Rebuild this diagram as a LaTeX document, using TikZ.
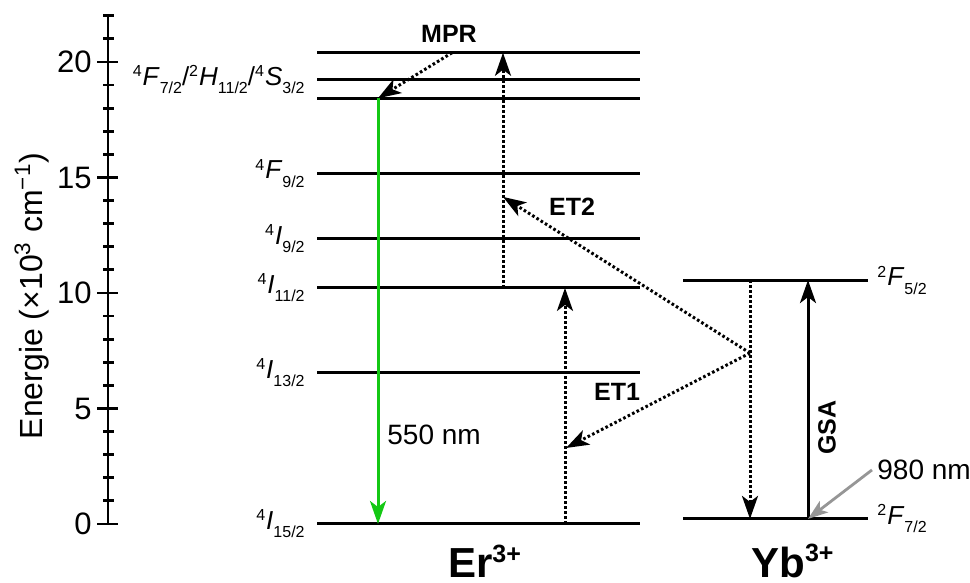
\documentclass[tikz,border=0pt]{standalone}
\usepackage{fontspec}
\setmainfont{Liberation Sans}
\usetikzlibrary{arrows.meta,positioning}

% term symbol: ^{#1}#2_{#3}
\newcommand{\term}[3]{\textsuperscript{\fontsize{8}{9}\selectfont #1}\textit{#2}\raisebox{-0.6ex}{\fontsize{8}{9}\selectfont #3}}

\tikzset{
    level/.style={line width=1.5pt},
    axis/.style={line width=1.4pt},
    tip/.style={-{Stealth[length=11.5pt,width=8pt,inset=3pt]}},
    trans/.style={tip, line width=1.5pt, dash pattern=on 1.3pt off 1.2pt},
    emission/.style={tip, line width=1.5pt, draw={rgb,255:red,20;green,200;blue,20}},
    pump/.style={tip, line width=1.5pt},
    laser/.style={-{Stealth[length=10pt,width=7pt,inset=2.5pt]}, line width=1.4pt, draw={rgb,255:red,150;green,150;blue,150}},
    termlabel/.style={inner sep=0pt, font=\fontsize{13}{15}\selectfont},
    tick/.style={inner sep=0pt, anchor=east, font=\fontsize{15.5}{18}\selectfont},
    proc/.style={inner sep=0pt, font=\fontsize{12.5}{15}\selectfont\bfseries},
    ion/.style={inner sep=0pt, font=\fontsize{21}{25}\selectfont\bfseries},
    wave/.style={inner sep=0pt, anchor=west, font=\fontsize{14}{17}\selectfont}
}

\begin{document}
\begin{tikzpicture}[x=0.5pt, y=11.55pt]
    \useasboundingbox (0,-2.554) rectangle (970,22.684);

    % Energy axis
    \draw[axis] (108,0) -- (108,22);
    \foreach \e in {0,...,22}
        \draw[axis] (103,\e) -- (114,\e);
    \foreach \e in {0,5,...,20} {
        \draw[axis] (97,\e) -- (118,\e);
        \node[tick] (t\e) at (92,\e) {\e};
    }
    \node[rotate=90, inner sep=0pt, font=\fontsize{16}{19}\selectfont] (elabel) at (32,9.87)
        {Energie (×10\textsuperscript{3} cm\textsuperscript{−1})};

    % Er levels
    \foreach \name/\e in {top/20.40, mid/19.25, low/18.43, ffive/15.19, inine/12.34, ieleven/10.22, ithirteen/6.55, ground/0}
        \draw[level] (317,\e) coordinate (\name L) -- (640,\e) coordinate (\name R);
    \node[termlabel, left=6pt of midL] (lmid) {\term{4}{F}{7/2}/\term{2}{H}{11/2}/\term{4}{S}{3/2}};
    \node[termlabel, left=6pt of ffiveL] (lffive) {\term{4}{F}{9/2}};
    \node[termlabel, left=6pt of inineL] (linine) {\term{4}{I}{9/2}};
    \node[termlabel, left=6pt of ielevenL] (lieleven) {\term{4}{I}{11/2}};
    \node[termlabel, left=6pt of ithirteenL] (lithirteen) {\term{4}{I}{13/2}};
    \node[termlabel, left=6pt of groundL] (lground) {\term{4}{I}{15/2}};
    \node[ion] (er) at (485,-1.60) {Er\textsuperscript{\fontsize{12.5}{15}\selectfont 3+}};

    % Yb levels
    \draw[level] (683,10.56) coordinate (ybupL) -- (868,10.56) coordinate (ybupR);
    \draw[level] (683,0.22) coordinate (ybdownL) -- (868,0.22) coordinate (ybdownR);
    \node[termlabel, right=4.5pt of ybupR] (lybup) {\term{2}{F}{5/2}};
    \node[termlabel, right=4.5pt of ybdownR] (lybdown) {\term{2}{F}{7/2}};
    \node[ion] (yb) at (793,-1.60) {Yb\textsuperscript{\fontsize{12.5}{15}\selectfont 3+}};

    % transitions
    \coordinate (gtop) at (378,18.43);
    \coordinate (gbot) at (378,0);
    \coordinate (mprstart) at (452,20.40);
    \coordinate (etwobot) at (503,10.22);
    \coordinate (etwotop) at (503,20.40);
    \coordinate (etwoend) at (503,14.16);
    \coordinate (etonebot) at (565,0);
    \coordinate (etonetop) at (565,10.22);
    \coordinate (etoneend) at (566,3.29);
    \coordinate (apex) at (750,7.40);
    \coordinate (ybtop) at (750,10.56);
    \coordinate (ybbot) at (750,0.22);
    \coordinate (gsabot) at (808,0.22);
    \coordinate (gsatop) at (808,10.56);
    \coordinate (laserstart) at (872,2.34);

    \draw[emission] (gtop) -- (gbot);
    \draw[trans] (mprstart) -- (gtop);
    \draw[trans] (etwobot) -- (etwotop);
    \draw[trans] (etonebot) -- (etonetop);
    \draw[trans] (apex) -- (etwoend);
    \draw[trans] (apex) -- (etoneend);
    \draw[trans] (ybtop) -- (ybbot);
    \draw[pump] (gsabot) -- (gsatop);
    \draw[laser] (laserstart) -- (gsabot);

    % labels
    \node[proc] (mpr) at (449,21.21) {MPR};
    \node[proc] (etwo) at (572,13.72) {ET2};
    \node[proc] (etone) at (617,5.71) {ET1};
    \node[proc, rotate=90] (gsa) at (827,4.16) {GSA};
    \node[wave] (green) at (387,3.85) {550 nm};
    \node[wave] (ir) at (877,2.34) {980 nm};
\end{tikzpicture}
\end{document}
